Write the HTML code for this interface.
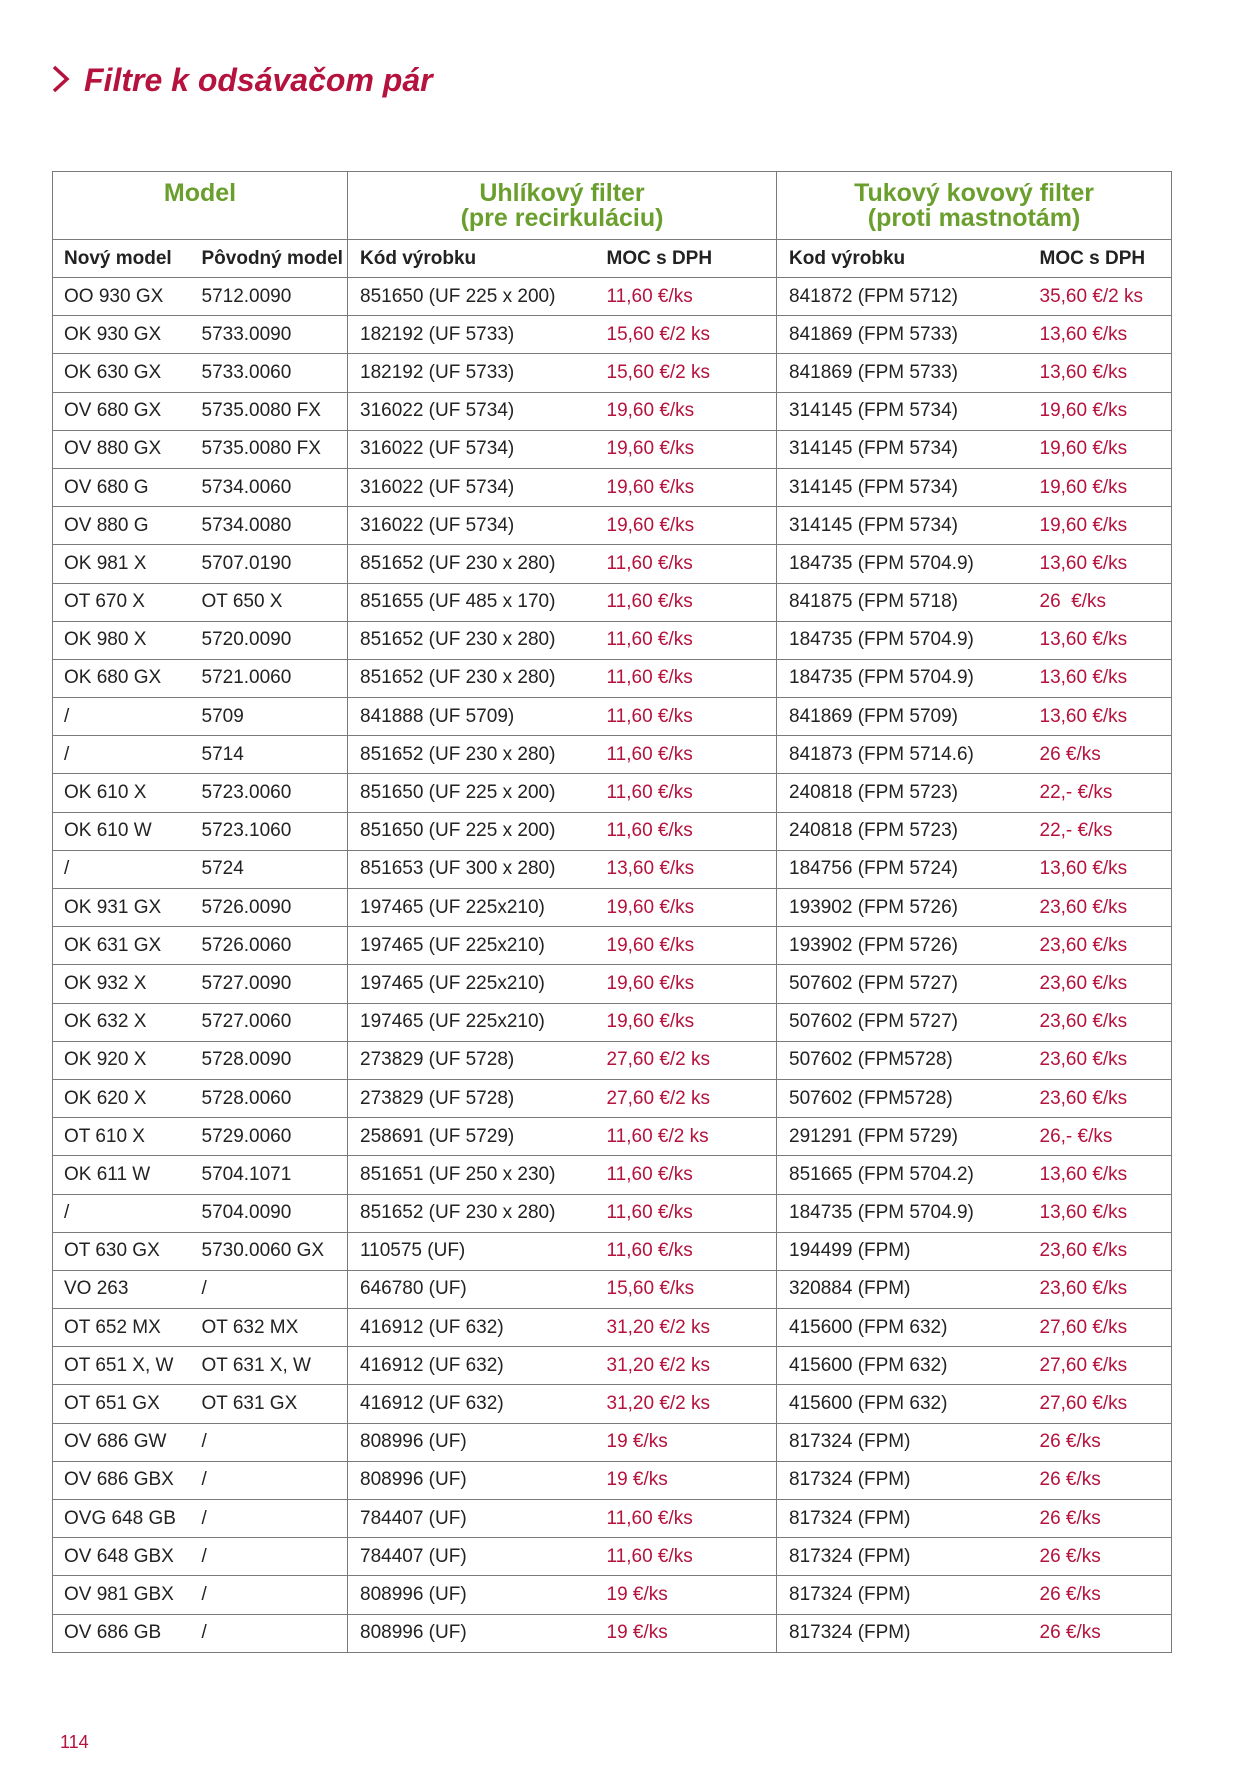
<!DOCTYPE html>
<html><head><meta charset="utf-8"><style>
*{margin:0;padding:0;box-sizing:border-box}
body{width:1257px;height:1785px;background:#fff;position:relative;font-family:"Liberation Sans",sans-serif;color:#222;overflow:hidden}
.title{position:absolute;left:84px;top:62px;font-size:32px;font-weight:bold;font-style:italic;color:#b5123e;white-space:nowrap}
.chev{position:absolute;left:50px;top:64px}
table{position:absolute;left:52px;top:171px;width:1119px;border-collapse:collapse;table-layout:fixed}
td,th{border:1.5px solid #7a7a7a;font-size:19px;white-space:nowrap;height:38.19px;vertical-align:middle;font-weight:normal;text-align:left}
tr.h th{height:68px;color:#6a9f2e;font-weight:bold;font-size:25px;text-align:center;line-height:25px;vertical-align:top;padding-top:9px}
tr.s th{height:38px;font-weight:bold;color:#222}
.a{padding-left:11px;border-right:none}
.b{padding-left:10px;border-left:none}
.c{padding-left:12px;border-right:none}
.d{padding-left:10px;border-left:none}
.e{padding-left:12px;border-right:none}
.f{padding-left:10px;border-left:none}
.r{color:#b5123e}
.pn{position:absolute;left:60px;top:1732px;font-size:18px;color:#b5123e}
</style></head><body>
<svg class="chev" width="22" height="30" viewBox="0 0 22 30"><polyline points="4,3 17,15 4,27" fill="none" stroke="#b5123e" stroke-width="3.5"/></svg>
<div class="title">Filtre k odsávačom pár</div>
<table>
<colgroup><col style="width:139px"><col style="width:156px"><col style="width:249px"><col style="width:180px"><col style="width:253px"><col style="width:142px"></colgroup>
<tr class="h"><th colspan="2">Model</th><th colspan="2">Uhlíkový filter<br>(pre recirkuláciu)</th><th colspan="2">Tukový kovový filter<br>(proti mastnotám)</th></tr>
<tr class="s"><th class="a">Nový model</th><th class="b">Pôvodný model</th><th class="c">Kód výrobku</th><th class="d">MOC s DPH</th><th class="e">Kod výrobku</th><th class="f">MOC s DPH</th></tr>
<tr><td class="a">OO 930 GX</td><td class="b">5712.0090</td><td class="c">851650 (UF 225 x 200)</td><td class="d r">11,60 €/ks</td><td class="e">841872 (FPM 5712)</td><td class="f r">35,60 €/2 ks</td></tr>
<tr><td class="a">OK 930 GX</td><td class="b">5733.0090</td><td class="c">182192 (UF 5733)</td><td class="d r">15,60 €/2 ks</td><td class="e">841869 (FPM 5733)</td><td class="f r">13,60 €/ks</td></tr>
<tr><td class="a">OK 630 GX</td><td class="b">5733.0060</td><td class="c">182192 (UF 5733)</td><td class="d r">15,60 €/2 ks</td><td class="e">841869 (FPM 5733)</td><td class="f r">13,60 €/ks</td></tr>
<tr><td class="a">OV 680 GX</td><td class="b">5735.0080 FX</td><td class="c">316022 (UF 5734)</td><td class="d r">19,60 €/ks</td><td class="e">314145 (FPM 5734)</td><td class="f r">19,60 €/ks</td></tr>
<tr><td class="a">OV 880 GX</td><td class="b">5735.0080 FX</td><td class="c">316022 (UF 5734)</td><td class="d r">19,60 €/ks</td><td class="e">314145 (FPM 5734)</td><td class="f r">19,60 €/ks</td></tr>
<tr><td class="a">OV 680 G</td><td class="b">5734.0060</td><td class="c">316022 (UF 5734)</td><td class="d r">19,60 €/ks</td><td class="e">314145 (FPM 5734)</td><td class="f r">19,60 €/ks</td></tr>
<tr><td class="a">OV 880 G</td><td class="b">5734.0080</td><td class="c">316022 (UF 5734)</td><td class="d r">19,60 €/ks</td><td class="e">314145 (FPM 5734)</td><td class="f r">19,60 €/ks</td></tr>
<tr><td class="a">OK 981 X</td><td class="b">5707.0190</td><td class="c">851652 (UF 230 x 280)</td><td class="d r">11,60 €/ks</td><td class="e">184735 (FPM 5704.9)</td><td class="f r">13,60 €/ks</td></tr>
<tr><td class="a">OT 670 X</td><td class="b">OT 650 X</td><td class="c">851655 (UF 485 x 170)</td><td class="d r">11,60 €/ks</td><td class="e">841875 (FPM 5718)</td><td class="f r">26&nbsp; €/ks</td></tr>
<tr><td class="a">OK 980 X</td><td class="b">5720.0090</td><td class="c">851652 (UF 230 x 280)</td><td class="d r">11,60 €/ks</td><td class="e">184735 (FPM 5704.9)</td><td class="f r">13,60 €/ks</td></tr>
<tr><td class="a">OK 680 GX</td><td class="b">5721.0060</td><td class="c">851652 (UF 230 x 280)</td><td class="d r">11,60 €/ks</td><td class="e">184735 (FPM 5704.9)</td><td class="f r">13,60 €/ks</td></tr>
<tr><td class="a">/</td><td class="b">5709</td><td class="c">841888 (UF 5709)</td><td class="d r">11,60 €/ks</td><td class="e">841869 (FPM 5709)</td><td class="f r">13,60 €/ks</td></tr>
<tr><td class="a">/</td><td class="b">5714</td><td class="c">851652 (UF 230 x 280)</td><td class="d r">11,60 €/ks</td><td class="e">841873 (FPM 5714.6)</td><td class="f r">26 €/ks</td></tr>
<tr><td class="a">OK 610 X</td><td class="b">5723.0060</td><td class="c">851650 (UF 225 x 200)</td><td class="d r">11,60 €/ks</td><td class="e">240818 (FPM 5723)</td><td class="f r">22,- €/ks</td></tr>
<tr><td class="a">OK 610 W</td><td class="b">5723.1060</td><td class="c">851650 (UF 225 x 200)</td><td class="d r">11,60 €/ks</td><td class="e">240818 (FPM 5723)</td><td class="f r">22,- €/ks</td></tr>
<tr><td class="a">/</td><td class="b">5724</td><td class="c">851653 (UF 300 x 280)</td><td class="d r">13,60 €/ks</td><td class="e">184756 (FPM 5724)</td><td class="f r">13,60 €/ks</td></tr>
<tr><td class="a">OK 931 GX</td><td class="b">5726.0090</td><td class="c">197465 (UF 225x210)</td><td class="d r">19,60 €/ks</td><td class="e">193902 (FPM 5726)</td><td class="f r">23,60 €/ks</td></tr>
<tr><td class="a">OK 631 GX</td><td class="b">5726.0060</td><td class="c">197465 (UF 225x210)</td><td class="d r">19,60 €/ks</td><td class="e">193902 (FPM 5726)</td><td class="f r">23,60 €/ks</td></tr>
<tr><td class="a">OK 932 X</td><td class="b">5727.0090</td><td class="c">197465 (UF 225x210)</td><td class="d r">19,60 €/ks</td><td class="e">507602 (FPM 5727)</td><td class="f r">23,60 €/ks</td></tr>
<tr><td class="a">OK 632 X</td><td class="b">5727.0060</td><td class="c">197465 (UF 225x210)</td><td class="d r">19,60 €/ks</td><td class="e">507602 (FPM 5727)</td><td class="f r">23,60 €/ks</td></tr>
<tr><td class="a">OK 920 X</td><td class="b">5728.0090</td><td class="c">273829 (UF 5728)</td><td class="d r">27,60 €/2 ks</td><td class="e">507602 (FPM5728)</td><td class="f r">23,60 €/ks</td></tr>
<tr><td class="a">OK 620 X</td><td class="b">5728.0060</td><td class="c">273829 (UF 5728)</td><td class="d r">27,60 €/2 ks</td><td class="e">507602 (FPM5728)</td><td class="f r">23,60 €/ks</td></tr>
<tr><td class="a">OT 610 X</td><td class="b">5729.0060</td><td class="c">258691 (UF 5729)</td><td class="d r">11,60 €/2 ks</td><td class="e">291291 (FPM 5729)</td><td class="f r">26,- €/ks</td></tr>
<tr><td class="a">OK 611 W</td><td class="b">5704.1071</td><td class="c">851651 (UF 250 x 230)</td><td class="d r">11,60 €/ks</td><td class="e">851665 (FPM 5704.2)</td><td class="f r">13,60 €/ks</td></tr>
<tr><td class="a">/</td><td class="b">5704.0090</td><td class="c">851652 (UF 230 x 280)</td><td class="d r">11,60 €/ks</td><td class="e">184735 (FPM 5704.9)</td><td class="f r">13,60 €/ks</td></tr>
<tr><td class="a">OT 630 GX</td><td class="b">5730.0060 GX</td><td class="c">110575 (UF)</td><td class="d r">11,60 €/ks</td><td class="e">194499 (FPM)</td><td class="f r">23,60 €/ks</td></tr>
<tr><td class="a">VO 263</td><td class="b">/</td><td class="c">646780 (UF)</td><td class="d r">15,60 €/ks</td><td class="e">320884 (FPM)</td><td class="f r">23,60 €/ks</td></tr>
<tr><td class="a">OT 652 MX</td><td class="b">OT 632 MX</td><td class="c">416912 (UF 632)</td><td class="d r">31,20 €/2 ks</td><td class="e">415600 (FPM 632)</td><td class="f r">27,60 €/ks</td></tr>
<tr><td class="a">OT 651 X, W</td><td class="b">OT 631 X, W</td><td class="c">416912 (UF 632)</td><td class="d r">31,20 €/2 ks</td><td class="e">415600 (FPM 632)</td><td class="f r">27,60 €/ks</td></tr>
<tr><td class="a">OT 651 GX</td><td class="b">OT 631 GX</td><td class="c">416912 (UF 632)</td><td class="d r">31,20 €/2 ks</td><td class="e">415600 (FPM 632)</td><td class="f r">27,60 €/ks</td></tr>
<tr><td class="a">OV 686 GW</td><td class="b">/</td><td class="c">808996 (UF)</td><td class="d r">19 €/ks</td><td class="e">817324 (FPM)</td><td class="f r">26 €/ks</td></tr>
<tr><td class="a">OV 686 GBX</td><td class="b">/</td><td class="c">808996 (UF)</td><td class="d r">19 €/ks</td><td class="e">817324 (FPM)</td><td class="f r">26 €/ks</td></tr>
<tr><td class="a">OVG 648 GB</td><td class="b">/</td><td class="c">784407 (UF)</td><td class="d r">11,60 €/ks</td><td class="e">817324 (FPM)</td><td class="f r">26 €/ks</td></tr>
<tr><td class="a">OV 648 GBX</td><td class="b">/</td><td class="c">784407 (UF)</td><td class="d r">11,60 €/ks</td><td class="e">817324 (FPM)</td><td class="f r">26 €/ks</td></tr>
<tr><td class="a">OV 981 GBX</td><td class="b">/</td><td class="c">808996 (UF)</td><td class="d r">19 €/ks</td><td class="e">817324 (FPM)</td><td class="f r">26 €/ks</td></tr>
<tr><td class="a">OV 686 GB</td><td class="b">/</td><td class="c">808996 (UF)</td><td class="d r">19 €/ks</td><td class="e">817324 (FPM)</td><td class="f r">26 €/ks</td></tr>
</table>
<div class="pn">114</div>
</body></html>
